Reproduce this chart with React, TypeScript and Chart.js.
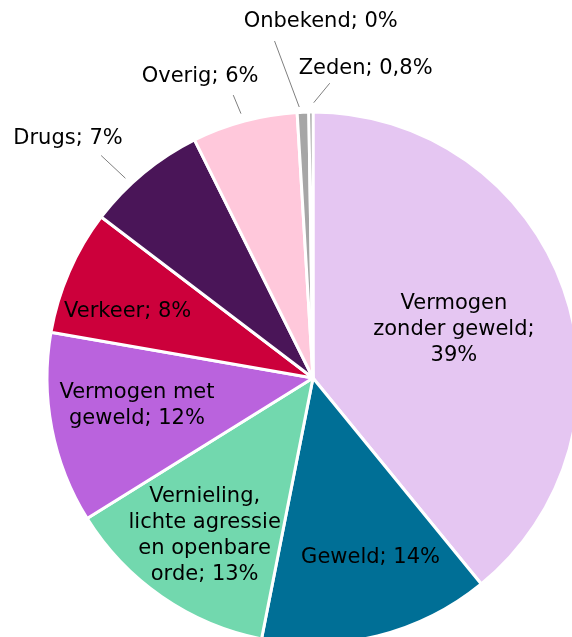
import React, { useEffect, useRef } from "react";
import { Chart, registerables } from "chart.js";

Chart.register(...registerables);

const categories = [
  "Vermogen zonder geweld",
  "Geweld",
  "Vernieling, lichte agressie en openbare orde",
  "Vermogen met geweld",
  "Verkeer",
  "Drugs",
  "Overig",
  "Onbekend",
  "Zeden",
];
const shares = [39.1, 14.0, 13.05, 11.6, 7.6, 7.3, 6.4, 0.7, 0.25];
const labelLines = [
  ["Vermogen", "zonder geweld;", "39%"],
  ["Geweld; 14%"],
  ["Vernieling,", "lichte agressie", "en openbare", "orde; 13%"],
  ["Vermogen met", "geweld; 12%"],
  ["Verkeer; 8%"],
  ["Drugs; 7%"],
  ["Overig; 6%"],
  ["Onbekend; 0%"],
  ["Zeden; 0,8%"],
];

const colors = [
  "#E5C6F2",
  "#006F96",
  "#72D8AE",
  "#BA63DD",
  "#CC003B",
  "#4A1558",
  "#FFC8DB",
  "#A6A6A6",
  "#8C8C8C",
];

// label placement: [angle offset from slice mid (deg), radius factor]
const textPlace: [number, number][] = [
  [0.7, 0.56],
  [-3.7, 0.71],
  [-0.2, 0.72],
  [2, 0.67],
  [-3.9, 0.74],
  [-6.1, 1.287],
  [-5.6, 1.21],
  [3.4, 1.34],
  [10.1, 1.18],
];
// leader lines: [innerOffset, innerFactor, outerOffset, outerFactor] or null
const leaderPlace: ([number, number, number, number] | null)[] = [
  null,
  null,
  null,
  null,
  null,
  [-3.6, 1.03, -4, 1.155],
  [-0.3, 1.03, -0.8, 1.105],
  [-0.75, 1.02, -4.35, 1.275],
  [0.6, 1.035, 3.7, 1.11],
];

const FONT = "21px 'DejaVu Sans', Verdana, sans-serif";
const LINE_H = 26;

const labelPlugin = {
  id: "pieLabels",
  afterDatasetsDraw(chart: any) {
    const ctx = chart.ctx;
    const meta = chart.getDatasetMeta(0);
    const deg = Math.PI / 180;
    meta.data.forEach((arc: any, i: number) => {
      const { x: cx, y: cy, startAngle, endAngle, outerRadius } = arc.getProps(
        ["x", "y", "startAngle", "endAngle", "outerRadius"],
        true
      );
      const mid = (startAngle + endAngle) / 2;
      const R = outerRadius;
      const pt = (off: number, f: number) => [
        cx + Math.cos(mid + off * deg) * R * f,
        cy + Math.sin(mid + off * deg) * R * f,
      ];
      const lp = leaderPlace[i];
      if (lp) {
        const [x1, y1] = pt(lp[0], lp[1]);
        const [x2, y2] = pt(lp[2], lp[3]);
        ctx.save();
        ctx.strokeStyle = "#7F7F7F";
        ctx.lineWidth = 1;
        ctx.beginPath();
        ctx.moveTo(x1, y1);
        ctx.lineTo(x2, y2);
        ctx.stroke();
        ctx.restore();
      }
      const [tx, ty] = pt(textPlace[i][0], textPlace[i][1]);
      const lines = labelLines[i];
      ctx.save();
      ctx.font = FONT;
      ctx.fillStyle = "#000000";
      ctx.textAlign = "center";
      ctx.textBaseline = "middle";
      const top = ty - ((lines.length - 1) * LINE_H) / 2;
      lines.forEach((ln, k) => ctx.fillText(ln, tx, top + k * LINE_H));
      ctx.restore();
    });
  },
};

export default function App() {
  const ref = useRef<HTMLCanvasElement>(null);
  useEffect(() => {
    if (!ref.current) return;
    const chart = new Chart(ref.current, {
      type: "pie",
      data: {
        labels: categories,
        datasets: [
          {
            data: shares,
            backgroundColor: colors,
            borderColor: "#FFFFFF",
            borderWidth: 3,
            radius: 266,
          },
        ],
      },
      options: {
        responsive: false,
        animation: false,
        layout: { padding: 0 },
        plugins: {
          legend: { display: false },
          tooltip: { enabled: false },
        },
      },
      plugins: [labelPlugin],
    });
    return () => chart.destroy();
  }, []);

  return (
    <div
      style={{
        position: "absolute",
        left: 0,
        top: 0,
        width: 572,
        height: 637,
        overflow: "hidden",
        background: "#FFFFFF",
      }}
    >
      <canvas ref={ref} width={626} height={756} style={{ display: "block" }} />
    </div>
  );
}
